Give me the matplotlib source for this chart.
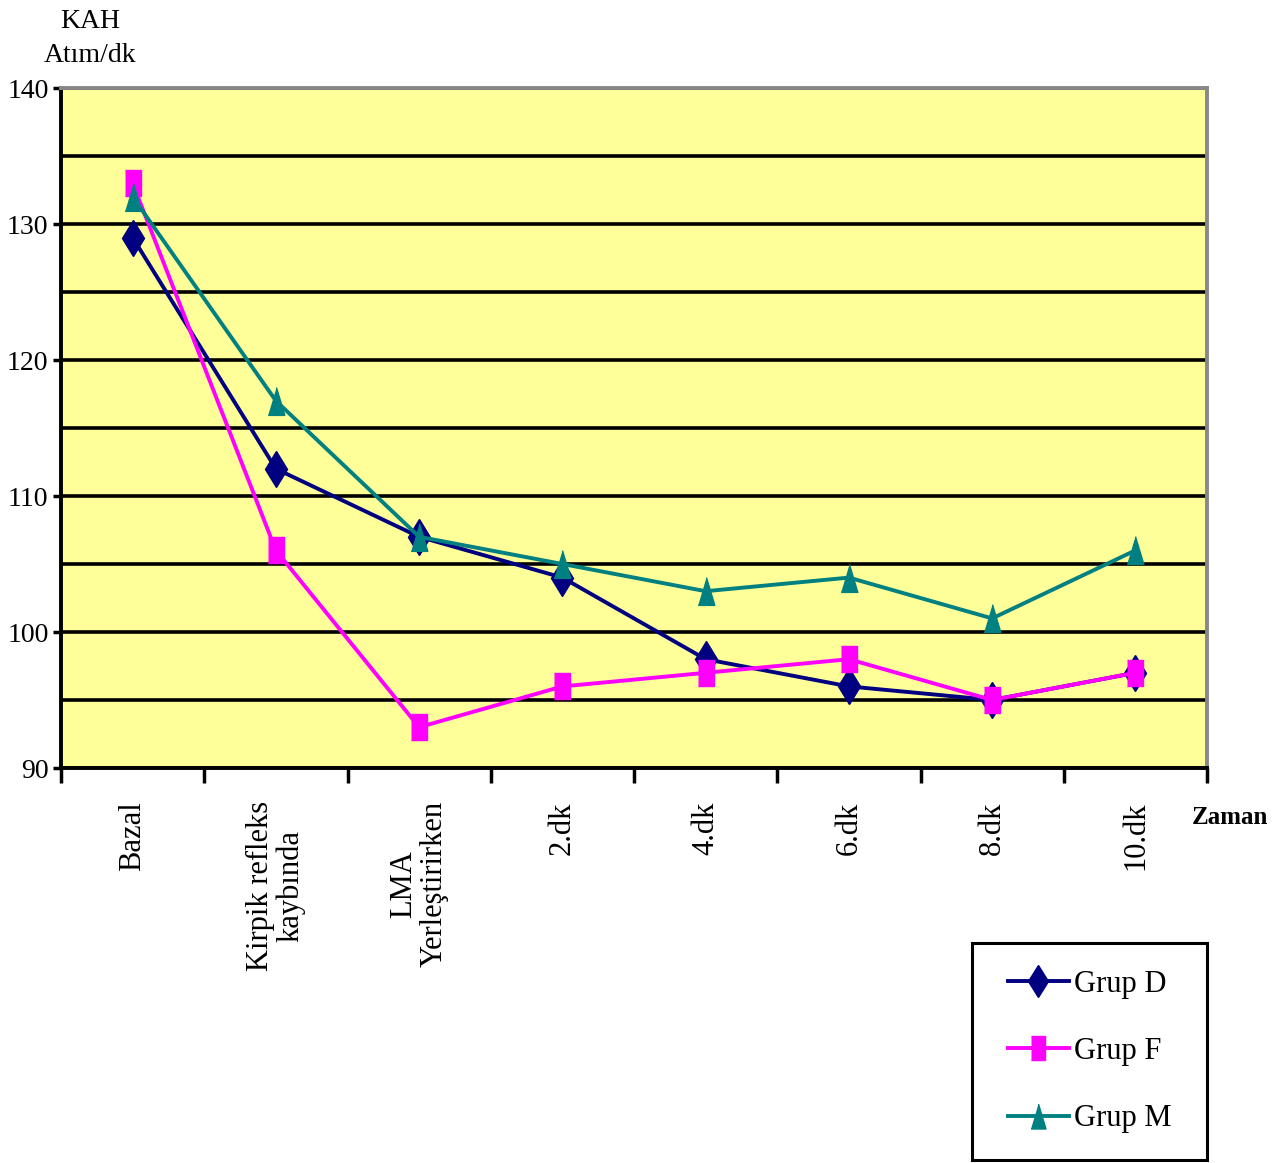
import matplotlib
matplotlib.use("Agg")
import matplotlib.pyplot as plt
from matplotlib.patches import Rectangle
from matplotlib.ticker import MultipleLocator, FixedLocator

plt.rcParams['font.family'] = ['Liberation Serif', 'DejaVu Serif']

# veriler
categories = ["Bazal", "Kirpik refleks\nkaybında", "LMA\nYerleştirirken",
              "2.dk", "4.dk", "6.dk", "8.dk", "10.dk"]
grup_d = [129, 112, 107, 104, 98, 96, 95, 97]
grup_f = [133, 106, 93, 96, 97, 98, 95, 97]
grup_m = [132, 117, 107, 105, 103, 104, 101, 106]

# uzun (dikey basik) isaretler
kare = [(-0.3, -0.5), (0.3, -0.5), (0.3, 0.5), (-0.3, 0.5)]
ucgen = [(-0.3, -0.5), (0.3, -0.5), (0.0, 0.5)]

fig = plt.figure(figsize=(12.82, 11.63), dpi=100)
ax = fig.add_axes([61 / 1282, 1 - 768 / 1163, (1207 - 61) / 1282, (768 - 88) / 1163])
ax.set_facecolor("#FFFF99")

x = list(range(len(categories)))
l1, = ax.plot(x, grup_d, color="#000080", lw=2.8, marker="d", ms=18, label="Grup D")
l2, = ax.plot(x, grup_f, color="#FF00FF", lw=2.8, marker=kare, ms=19, label="Grup F")
l3, = ax.plot(x, grup_m, color="#008080", lw=2.8, marker=ucgen, ms=20, label="Grup M")

ax.set_xlim(-0.5, len(categories) - 0.5)
ax.set_ylim(90, 140)

# yatay cizgiler
ax.yaxis.set_major_locator(MultipleLocator(10))
ax.yaxis.set_minor_locator(MultipleLocator(5))
ax.grid(axis="y", which="both", color="black", lw=2.6)
ax.set_axisbelow(True)
ax.tick_params(axis="y", which="major", direction="out", length=6, width=2.5,
               labelsize=20, pad=3)
ax.tick_params(axis="y", which="minor", length=0)

# x ekseni: etiketler ortada, cizgiler sinirlarda
ax.set_xticks(x)
ax.set_xticklabels(categories, rotation=90, va="top", ha="center",
                   multialignment="center", fontsize=22, linespacing=1.05)
ax.xaxis.set_minor_locator(FixedLocator([i - 0.5 for i in range(len(categories) + 1)]))
ax.tick_params(axis="x", which="major", length=0, pad=24)
ax.tick_params(axis="x", which="minor", direction="out", length=11, width=2.5)

for s in ["left", "bottom"]:
    ax.spines[s].set_linewidth(2.8)
    ax.spines[s].set_color("black")
for s in ["top", "right"]:
    ax.spines[s].set_linewidth(2.8)
    ax.spines[s].set_color("#888888")

fig.text(90 / 1282, 1 - 22 / 1163, "KAH", ha="center", va="center", fontsize=20)
fig.text(90 / 1282, 1 - 55 / 1163, "Atım/dk", ha="center", va="center", fontsize=20)
fig.text(1230 / 1282, 1 - 818 / 1163, "Zaman", ha="center", va="center",
         fontsize=18, fontweight="bold")

# lejant kutusu
fig.patches.append(Rectangle((972 / 1282, 1 - 1160 / 1163), 235 / 1282, 217 / 1163,
                             transform=fig.transFigure, fill=False,
                             edgecolor="black", lw=2.2))
fig.legend(handles=[l1, l2, l3], loc="center",
           bbox_to_anchor=((972 + 1207) / 2 / 1282, 1 - (943 + 1160) / 2 / 1163),
           frameon=False, fontsize=22, handlelength=2.0, handletextpad=0.15,
           labelspacing=1.25, markerscale=0.9)

fig.savefig("out.png", dpi=100)
